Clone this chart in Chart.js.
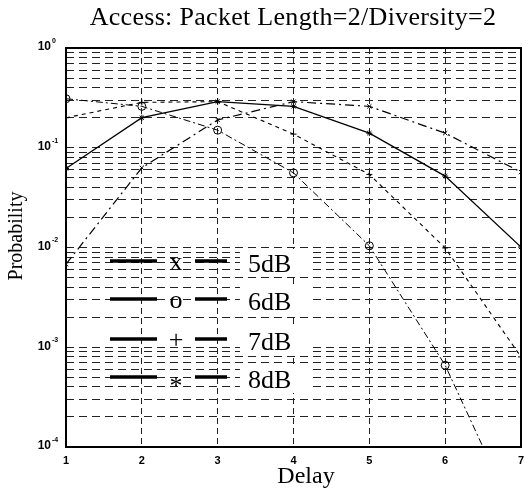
<!DOCTYPE html>
<html lang="en">
<head>
<meta charset="UTF-8" />
<title>Access: Packet Length=2/Diversity=2</title>
<script src="https://cdn.jsdelivr.net/npm/chart.js"></script>
<style>
  html, body { margin: 0; padding: 0; background: #fff; }
  .wrap { width: 526px; height: 497px; position: relative; }
</style>
</head>
<body>
<div class="wrap"><canvas id="myChart"></canvas></div>
<script>
// values
const delays = [1, 2, 3, 4, 5, 6, 7];
const p5dB = [0.0068, 0.063, 0.19, 0.29, 0.26, 0.14, 0.057];
const p6dB = [0.31, 0.26, 0.15, 0.056, 0.0104, 0.00066, 0.000015];
const p7dB = [0.2, 0.285, 0.29, 0.137, 0.054, 0.0099, 0.0008];
const p8dB = [0.062, 0.2, 0.29, 0.26, 0.14, 0.052, 0.0101];

const xTicks = [1, 2, 3, 4, 5, 6, 7];
const yExponents = [0, -1, -2, -3, -4];
const legendLabels = ["5dB", "6dB", "7dB", "8dB"];
const legendMarks = ["x", "o", "+", "*"];

// grid lines at 1..9 x 10^k
const yGrid = [];
yExponents.slice().reverse().forEach((e) => {
  if (e === 0) { yGrid.push(1); return; }
  for (let m = 1; m <= 9; m++) yGrid.push(m * Math.pow(10, e));
});

const toPoints = (arr) => delays.map((d, i) => ({ x: d, y: arr[i] }));

function ds(label, arr, dash, width, style, radius) {
  return {
    label: label,
    data: toPoints(arr),
    borderColor: "#000",
    backgroundColor: "rgba(0,0,0,0)",
    borderWidth: width,
    borderDash: dash,
    pointStyle: style,
    pointRadius: radius,
    pointBorderColor: "#000",
    pointBorderWidth: 1,
    pointBackgroundColor: "rgba(0,0,0,0)",
    tension: 0,
  };
}

const serif = '"Liberation Serif", "Times New Roman", serif';
const sans = '"Liberation Sans", Arial, sans-serif';

const decorations = {
  id: "decorations",
  afterDatasetsDraw(chart) {
    const { ctx, chartArea: a, scales } = chart;
    ctx.save();

    // frame
    ctx.strokeStyle = "#000";
    ctx.lineWidth = 2;
    ctx.strokeRect(a.left, a.top, a.right - a.left, a.bottom - a.top);

    // legend
    const rows = [261, 299, 339, 377];
    rows.forEach((y, i) => {
      ctx.fillStyle = "#fff";
      ctx.fillRect(240, y - 12, 72, 28);
      ctx.strokeStyle = "#000";
      ctx.lineWidth = 3.5;
      ctx.setLineDash([]);
      ctx.beginPath();
      ctx.moveTo(110, y);
      ctx.lineTo(157, y);
      ctx.moveTo(195, y);
      ctx.lineTo(227, y);
      ctx.stroke();
      ctx.fillStyle = "#000";
      ctx.font = "26px " + serif;
      ctx.textAlign = "center";
      ctx.textBaseline = "alphabetic";
      const mark = legendMarks[i];
      ctx.fillText(mark, 176, y + (mark === "*" ? 17 : 9));
      ctx.textAlign = "left";
      ctx.fillText(legendLabels[i], 248, y + 11);
    });

    // x tick labels
    ctx.fillStyle = "#000";
    ctx.font = "bold 11px " + sans;
    ctx.textAlign = "center";
    ctx.textBaseline = "middle";
    xTicks.forEach((t) => {
      ctx.fillText(String(t), scales.x.getPixelForValue(t), a.bottom + 14);
    });

    // y tick labels 10^e
    yExponents.forEach((e) => {
      const y = scales.y.getPixelForValue(Math.pow(10, e)) - 1;
      ctx.font = "bold 12px " + sans;
      ctx.textAlign = "right";
      ctx.textBaseline = "middle";
      ctx.fillText("10", 51, y);
      ctx.font = "bold 7px " + sans;
      ctx.textAlign = "left";
      ctx.fillText(e === 0 ? "0" : String(e), 52, y - 6);
    });

    // title and axis names
    ctx.font = "26px " + serif;
    ctx.textAlign = "center";
    ctx.textBaseline = "alphabetic";
    ctx.letterSpacing = "0.3px";
    ctx.fillText("Access: Packet Length=2/Diversity=2", 293, 25);
    ctx.letterSpacing = "0px";
    ctx.font = "24px " + serif;
    ctx.fillText("Delay", 306, 483);
    ctx.translate(17, 236);
    ctx.rotate(-Math.PI / 2);
    ctx.font = "20px " + serif;
    ctx.textBaseline = "middle";
    ctx.fillText("Probability", 0, 0);
    ctx.restore();
  },
};

new Chart(document.getElementById("myChart"), {
  type: "line",
  data: {
    datasets: [
      ds("5dB", p5dB, [9, 4, 2, 4], 1.2, "crossRot", 3),
      ds("6dB", p6dB, [7, 3, 2, 3], 1, "circle", 4),
      ds("7dB", p7dB, [4, 4], 1.1, "cross", 3),
      ds("8dB", p8dB, [], 1.3, "star", 3),
    ],
  },
  options: {
    responsive: true,
    maintainAspectRatio: false,
    animation: false,
    layout: { padding: { left: 66, top: 48, right: 4, bottom: 50 } },
    plugins: { legend: { display: false }, tooltip: { enabled: false } },
    scales: {
      x: {
        type: "linear",
        min: 1,
        max: 7,
        afterBuildTicks: (s) => { s.ticks = xTicks.map((v) => ({ value: v })); },
        ticks: { display: false },
        grid: { color: "#222", lineWidth: 1, drawTicks: false },
        border: { display: false, dash: [6, 4] },
      },
      y: {
        type: "logarithmic",
        min: 1e-4,
        max: 1,
        afterBuildTicks: (s) => { s.ticks = yGrid.map((v) => ({ value: v })); },
        ticks: { display: false },
        grid: { color: "#222", lineWidth: 1, drawTicks: false },
        border: { display: false, dash: [8, 5] },
      },
    },
  },
  plugins: [decorations],
});
</script>
</body>
</html>
